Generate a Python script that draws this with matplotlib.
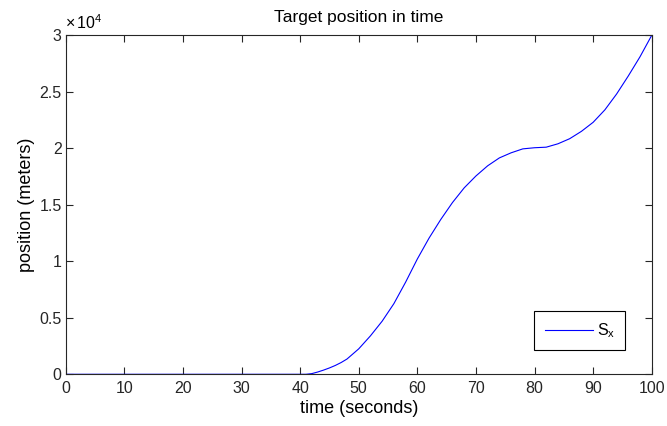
#!/usr/bin/env python

"""
Target position over time, drawn in a plain boxed-axes style.
"""

import matplotlib
matplotlib.use("Agg")
import matplotlib.pyplot as plt
from matplotlib.ticker import MultipleLocator, FuncFormatter

# Time samples (s) and x-position of the target (m)
time_s = [0, 40, 41, 42, 43, 44, 45, 46, 47, 48, 50, 52, 54, 56, 58, 60, 62,
          64, 66, 68, 70, 72, 74, 76, 78, 80, 82, 84, 86, 88, 90, 92, 94, 96,
          98, 100]
pos_x = [0, 0, 0, 60, 200, 370, 560, 780, 1040, 1350, 2250, 3400, 4700, 6250,
         8150, 10200, 12050, 13700, 15200, 16500, 17550, 18450, 19150, 19600,
         19950, 20050, 20100, 20400, 20850, 21500, 22300, 23400, 24800, 26400,
         28100, 30000]

title = "Target position in time"
xlabel = "time (seconds)"
ylabel = "position (meters)"
legend_label = r"S$_{x}$"

plt.rcParams["font.family"] = ["Liberation Sans", "DejaVu Sans"]
plt.rcParams["mathtext.default"] = "regular"

fig = plt.figure(figsize=(6.67, 4.26), dpi=100)
ax = fig.add_axes([0.0985, 0.1214, 0.8786, 0.7957])

ax.plot(time_s, pos_x, color=(0, 0, 1), lw=0.8, label=legend_label)

ax.set_xlim(0, 100)
ax.set_ylim(0, 30000)
ax.xaxis.set_major_locator(MultipleLocator(10))
ax.yaxis.set_major_locator(MultipleLocator(5000))
ax.yaxis.set_major_formatter(FuncFormatter(lambda v, p: "%g" % (v / 1e4)))

ax.tick_params(direction="in", length=5, width=0.8, top=True, right=True,
               colors="#262626", labelsize=11.5)
ax.tick_params(axis="x", pad=5)
ax.tick_params(axis="y", pad=3)
for s in ax.spines.values():
    s.set_linewidth(0.8)
    s.set_color("#262626")

ax.set_title(title, fontsize=12.5, pad=9.5)
ax.set_xlabel(xlabel, fontsize=13, labelpad=3)
ax.set_ylabel(ylabel, fontsize=13, labelpad=3)

# exponent marker next to the top y tick
ax.text(-0.002, 1.01, r"$\times\,10^{4}$", transform=ax.transAxes,
        fontsize=11.5, ha="left", va="bottom")

leg = ax.legend(loc="lower right", bbox_to_anchor=(0.955, 0.071),
                borderaxespad=0, fancybox=False, framealpha=1,
                edgecolor="black", handlelength=3.0, handletextpad=0.25,
                borderpad=0.65, fontsize=11.5)
leg.get_frame().set_linewidth(0.8)

plt.savefig("out.png", dpi=100)
plt.close()
